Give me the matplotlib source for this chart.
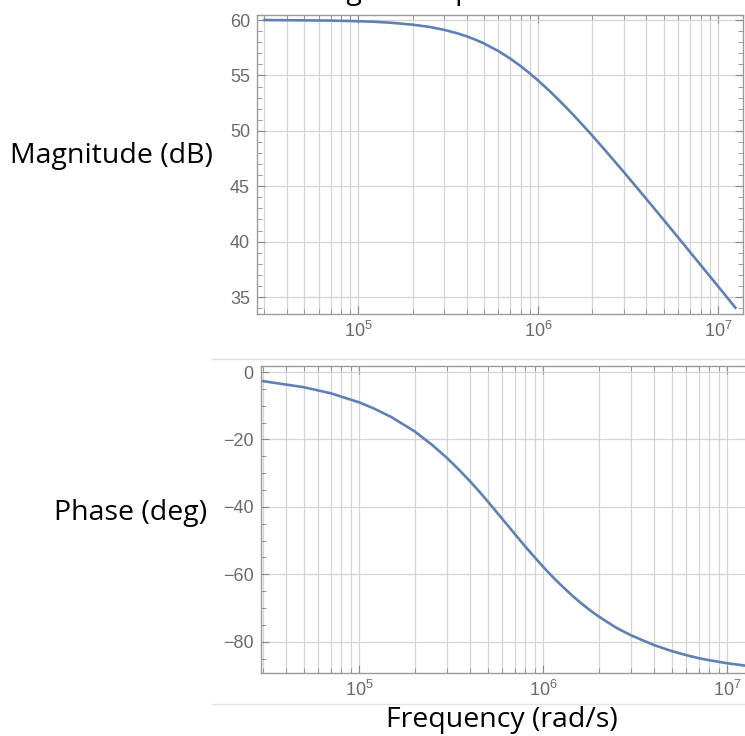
# Bode plot: magnitude (dB) and phase (deg) against frequency (rad/s)
# Saves out.png

import numpy as np
import matplotlib
matplotlib.use("Agg")
import matplotlib.pyplot as plt
from matplotlib.lines import Line2D
from matplotlib.ticker import LogLocator, MultipleLocator, NullFormatter

# values
freq = [3e4, 5e4, 7e4, 1e5, 1.2e5, 1.5e5, 2e5, 2.5e5, 3e5, 3.5e5, 4e5,
        4.5e5, 5e5, 6e5, 7e5, 8e5, 9e5, 1e6, 1.15e6, 1.3e6, 1.45e6, 1.6e6,
        1.8e6, 2e6, 2.5e6, 3e6, 4e6, 5e6, 6e6, 7e6, 8e6, 1e7, 1.25e7]
mag_db = [60.0, 59.97, 59.95, 59.89, 59.85, 59.76, 59.58, 59.37, 59.11,
          58.83, 58.53, 58.21, 57.88, 57.2, 56.51, 55.83, 55.17, 54.53,
          53.63, 52.79, 52.01, 51.28, 50.38, 49.56, 47.76, 46.26, 43.84,
          41.94, 40.38, 39.05, 37.9, 35.97, 34.04]
phase_deg = [-2.7, -4.5, -6.3, -9.0, -10.8, -13.4, -17.6, -21.7, -25.5,
             -29.1, -32.4, -35.5, -38.4, -43.6, -48.0, -51.8, -55.0, -57.8,
             -61.3, -64.1, -66.5, -68.5, -70.7, -72.5, -75.9, -78.1, -81.0,
             -82.8, -84.0, -84.9, -85.5, -86.4, -87.1]

W, H = 745, 736
LINE = "#5E81B5"
GRID = "#d4d4d4"
SLIDE_FONT = ["Open Sans", "DejaVu Sans"]

plt.rcParams["font.family"] = ["Liberation Sans", "DejaVu Sans"]
plt.rcParams["mathtext.default"] = "regular"

fig = plt.figure(figsize=(W / 100, H / 100), dpi=100)


def px_axes(left, right, top, bottom):
    return fig.add_axes([left / W, 1 - bottom / H,
                         (right - left) / W, (bottom - top) / H])


def style(ax, major_y, minor_y):
    ax.set_xscale("log")
    ax.xaxis.set_major_locator(LogLocator(base=10, numticks=20))
    ax.xaxis.set_minor_locator(LogLocator(base=10, subs=np.arange(2, 10),
                                          numticks=20))
    ax.xaxis.set_minor_formatter(NullFormatter())
    ax.yaxis.set_major_locator(MultipleLocator(major_y))
    ax.yaxis.set_minor_locator(MultipleLocator(minor_y))
    ax.grid(True, which="both", axis="x", color=GRID, lw=0.9)
    ax.grid(True, which="major", axis="y", color=GRID, lw=0.9)
    ax.set_axisbelow(True)
    ax.tick_params(which="both", direction="in", top=True, right=True,
                   colors="#8a8a8a", labelcolor="#6a6a6a", labelsize=13)
    ax.tick_params(which="major", length=6, width=0.8, pad=5)
    ax.tick_params(which="minor", length=3.5, width=0.6)
    for s in ax.spines.values():
        s.set_color("#9a9a9a")
        s.set_linewidth(1.0)


# magnitude panel
ax1 = px_axes(257, 743, 14.6, 314)
ax1.plot(freq, mag_db, color=LINE, lw=1.9)
style(ax1, 5, 1)
ax1.set_xlim(10 ** 4.4356, 10 ** 7.139)
ax1.set_ylim(33.47, 60.49)

# phase panel
ax2 = px_axes(260.7, 760, 366, 673)
ax2.plot(freq, phase_deg, color=LINE, lw=1.9)
style(ax2, 20, 5)
ax2.set_xlim(10 ** 4.464, 10 ** 7.179)
ax2.set_ylim(-89.3, 1.8)

# slide text around the two pictures
fig.text(10 / W, 1 - 163 / H, "Magnitude (dB)", ha="left", va="baseline",
         fontsize=20.5, family=SLIDE_FONT, color="black")
fig.text(207 / W, 1 - 520 / H, "Phase (deg)", ha="right", va="baseline",
         fontsize=20.5, family=SLIDE_FONT, color="black")
fig.text(502 / W, 1 - 727 / H, "Frequency (rad/s)", ha="center",
         va="baseline", fontsize=20.5, family=SLIDE_FONT, color="black")
# title cut off by the top edge, only descenders show
fig.text(305 / W, 1 + 1 / H, "Magnitude plot", ha="left", va="baseline",
         fontsize=20.5, family=SLIDE_FONT, color="black")

# thin edges of the pasted pictures
fig.add_artist(Line2D([212 / W, 1], [1 - 359 / H] * 2, color="#dedede",
                      lw=1))
fig.add_artist(Line2D([212 / W, 1], [1 - 704 / H] * 2, color="#e4e4e4",
                      lw=1))

fig.savefig("out.png", dpi=100)
